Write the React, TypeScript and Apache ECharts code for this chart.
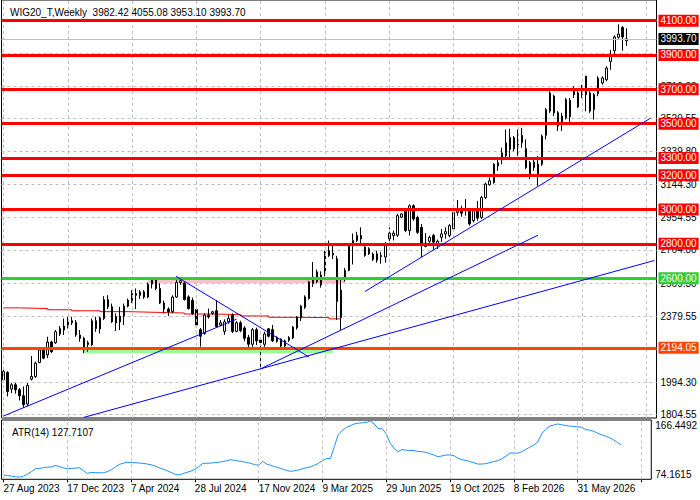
import React, { useEffect, useRef } from 'react';
import * as echarts from 'echarts';

const symbolName = 'WIG20_T';
const timeframe = 'Weekly';
const startDateUTC = Date.UTC(2023, 7, 27);
const totalSlots = 163;
const xTickStep = 16;
const xTickLabels = ['27 Aug 2023', '17 Dec 2023', '7 Apr 2024', '28 Jul 2024', '17 Nov 2024', '9 Mar 2025', '29 Jun 2025', '19 Oct 2025', '8 Feb 2026', '31 May 2026'];

// [open, high, low, close]
const candlesOHLC: number[][] = [
  [2008, 2066, 1998, 2056], [2050, 2058, 1911, 1940], [1954, 1989, 1931, 1979], [1979, 1990, 1927, 1950],
  [1950, 1960, 1888, 1915], [1915, 1969, 1844, 1863], [1867, 1989, 1853, 1975], [2012, 2147, 2004, 2027],
  [2027, 2114, 2018, 2105], [2108, 2190, 2105, 2182], [2188, 2197, 2128, 2134], [2153, 2259, 2134, 2228],
  [2228, 2236, 2163, 2172], [2224, 2298, 2217, 2288], [2275, 2321, 2263, 2307], [2298, 2365, 2269, 2321],
  [2317, 2375, 2307, 2346], [2340, 2375, 2327, 2352], [2342, 2356, 2259, 2269], [2269, 2298, 2230, 2250],
  [2250, 2259, 2163, 2182], [2213, 2236, 2172, 2224], [2211, 2365, 2205, 2352], [2352, 2375, 2288, 2307],
  [2304, 2375, 2278, 2369], [2365, 2495, 2356, 2475], [2475, 2501, 2420, 2433], [2433, 2452, 2340, 2346],
  [2375, 2395, 2292, 2340], [2345, 2433, 2298, 2379], [2379, 2452, 2327, 2437], [2437, 2481, 2430, 2472],
  [2470, 2530, 2455, 2510], [2510, 2540, 2420, 2500], [2500, 2530, 2480, 2520], [2520, 2530, 2480, 2490],
  [2490, 2575, 2485, 2565], [2565, 2600, 2540, 2590], [2590, 2600, 2530, 2540], [2540, 2570, 2450, 2455],
  [2455, 2470, 2395, 2420], [2420, 2430, 2380, 2405], [2405, 2500, 2395, 2490], [2490, 2610, 2485, 2575],
  [2575, 2600, 2560, 2585], [2572, 2578, 2470, 2475], [2491, 2500, 2417, 2423], [2470, 2487, 2385, 2394],
  [2418, 2433, 2317, 2327], [2300, 2310, 2201, 2262], [2278, 2395, 2270, 2385], [2385, 2423, 2365, 2375],
  [2395, 2410, 2385, 2404], [2410, 2472, 2310, 2317], [2327, 2356, 2320, 2340], [2290, 2360, 2270, 2346],
  [2346, 2385, 2335, 2365], [2385, 2395, 2280, 2290], [2290, 2350, 2285, 2340], [2340, 2352, 2285, 2295],
  [2310, 2320, 2232, 2250], [2255, 2270, 2198, 2215], [2215, 2310, 2200, 2300], [2300, 2312, 2210, 2235],
  [2240, 2250, 2072, 2225], [2215, 2288, 2200, 2275], [2305, 2310, 2255, 2262], [2300, 2327, 2228, 2235],
  [2232, 2262, 2225, 2255], [2245, 2250, 2195, 2205], [2205, 2242, 2190, 2235], [2238, 2262, 2228, 2255],
  [2252, 2322, 2245, 2315], [2310, 2380, 2300, 2372], [2368, 2445, 2350, 2437], [2430, 2500, 2420, 2491],
  [2481, 2585, 2475, 2578], [2568, 2694, 2549, 2607], [2578, 2650, 2570, 2636], [2617, 2640, 2545, 2560],
  [2626, 2760, 2610, 2752], [2761, 2819, 2723, 2732], [2745, 2800, 2712, 2735], [2713, 2730, 2356, 2465],
  [2370, 2600, 2298, 2530], [2590, 2660, 2580, 2645], [2645, 2800, 2640, 2790], [2790, 2860, 2680, 2819],
  [2819, 2870, 2810, 2848], [2848, 2896, 2800, 2830], [2781, 2795, 2725, 2733], [2742, 2780, 2735, 2771],
  [2740, 2750, 2700, 2710], [2742, 2760, 2690, 2705], [2725, 2752, 2684, 2732], [2723, 2810, 2690, 2790],
  [2829, 2896, 2810, 2862], [2848, 2877, 2820, 2862], [2850, 2975, 2840, 2964], [2955, 2980, 2950, 2974],
  [2989, 2995, 2868, 2877], [2877, 3030, 2848, 3022], [3022, 3030, 2935, 2945], [2954, 2964, 2857, 2867],
  [2896, 2915, 2723, 2790], [2785, 2862, 2780, 2804], [2815, 2848, 2790, 2838], [2848, 2858, 2765, 2810],
  [2800, 2825, 2770, 2815], [2838, 2886, 2810, 2858], [2858, 2896, 2830, 2871], [2848, 2915, 2838, 2906],
  [2887, 2993, 2877, 2983], [2983, 3055, 2964, 3003], [2997, 3022, 2958, 2978], [2993, 3060, 2964, 3003],
  [2993, 3008, 2906, 2916], [2935, 3003, 2925, 2993], [3003, 3050, 2935, 2950], [2954, 3080, 2945, 3070],
  [3070, 3157, 3060, 3148], [3144, 3186, 3140, 3167], [3157, 3270, 3150, 3264], [3254, 3293, 3225, 3273],
  [3290, 3360, 3263, 3330], [3312, 3466, 3300, 3389], [3350, 3470, 3292, 3420], [3418, 3428, 3340, 3354],
  [3360, 3466, 3312, 3380], [3389, 3476, 3360, 3432], [3354, 3408, 3235, 3244], [3206, 3283, 3177, 3273],
  [3277, 3302, 3225, 3244], [3196, 3312, 3138, 3264], [3264, 3437, 3254, 3427], [3432, 3592, 3408, 3582],
  [3573, 3689, 3563, 3679], [3660, 3669, 3544, 3563], [3563, 3573, 3457, 3486], [3505, 3563, 3457, 3544],
  [3534, 3650, 3524, 3640], [3540, 3650, 3505, 3636], [3689, 3718, 3650, 3669], [3679, 3689, 3592, 3598],
  [3669, 3727, 3650, 3708], [3776, 3779, 3573, 3669], [3679, 3689, 3563, 3573], [3582, 3679, 3524, 3669],
  [3675, 3776, 3660, 3766], [3737, 3776, 3727, 3766], [3756, 3834, 3747, 3824], [3862, 3930, 3814, 3901],
  [3925, 4015, 3905, 4005], [4003, 4078, 3995, 4022], [4060, 4068, 3925, 4005], [3982.42, 4055.08, 3953.1, 3993.7],
];

const atr14: number[] = [
  80.9, 80.0, 79.2, 78.0, 77.5, 79.0, 82.0, 86.0, 90.5, 91.0,
  92.2, 93.0, 93.4, 95.6, 94.0, 92.0, 90.5, 91.0, 91.5, 92.2,
  88.0, 83.2, 84.9, 84.5, 84.3, 84.3, 86.0, 88.8, 93.0, 97.3,
  99.0, 100.7, 100.2, 100.0, 99.5, 99.0, 98.0, 96.8, 95.0, 92.2,
  90.0, 87.7, 85.0, 82.0, 80.9, 83.0, 84.9, 87.0, 89.4, 94.0,
  99.0, 99.0, 99.5, 100.0, 100.7, 101.9, 103.0, 104.7, 103.5, 102.5,
  101.9, 100.2, 99.0, 97.0, 96.2, 101.9, 97.9, 96.0, 94.0, 92.2,
  90.0, 88.0, 86.6, 87.5, 88.8, 90.5, 92.2, 93.5, 96.0, 99.0,
  103.0, 106.4, 106.4, 125.0, 144.4, 150.0, 154.7, 157.5, 160.3, 161.5,
  162.0, 162.6, 164.9, 160.3, 153.0, 153.0, 145.0, 130.3, 122.0, 117.2,
  120.6, 119.5, 119.0, 118.9, 117.5, 117.0, 116.1, 114.0, 112.0, 109.3,
  110.5, 112.0, 112.1, 111.0, 107.0, 104.7, 103.5, 101.9, 100.0, 97.9,
  97.9, 98.5, 100.0, 101.9, 103.0, 105.9, 110.0, 114.9, 114.9, 114.9,
  117.0, 120.6, 124.0, 127.4, 132.0, 145.0, 152.0, 156.9, 158.5, 160.3,
  159.0, 158.0, 156.9, 156.5, 155.8, 155.3, 151.8, 150.5, 149.0, 146.0,
  143.5, 141.6, 139.0, 135.9, 131.5, 127.7107,
];

const priceTicks = [1804.55, 1994.3, 2184.05, 2379.55, 2569.3, 2764.8, 2954.55, 3144.3, 3339.8, 3529.55, 3719.3, 3909.05, 4104.55];
const priceMin = 1785.5;
const priceMax = 4220.3;
const atrTicks = [74.1615, 166.4492];

const redLevels = [4100, 3900, 3700, 3500, 3300, 3200, 3000, 2800];
const greenLevel = 2600;
const supportLevel = 2194.05;
const bidPrice = 3993.7;

// trend lines: [[startIndex, startPrice], [endIndex, endPrice]]
const trendLines = [
  [[0, 1797], [58, 2361]],
  [[43, 2610], [76, 2141]],
  [[64, 2072], [133, 2850]],
  [[20, 1789], [162, 2703]],
  [[90, 2523], [161, 3532]],
];

// zones: [[startIndex, topPrice], [endIndex, bottomPrice]]
const pinkZone = [[36, 2600], [85, 2572]];
const greenZone = [[20, 2197], [82, 2162]];

// thin red stepped average
const redStepIdx = [0, 4, 11, 17, 24, 31, 38, 45, 52, 59, 66, 73, 81, 84];
const redStepVal = [2427, 2423, 2416, 2410, 2405, 2401, 2397, 2391, 2388, 2380, 2372, 2370, 2363, 2363];

const MONTHS = ['Jan', 'Feb', 'Mar', 'Apr', 'May', 'Jun', 'Jul', 'Aug', 'Sep', 'Oct', 'Nov', 'Dec'];
const categories = Array.from({ length: totalSlots }, (_, i) => {
  const d = new Date(startDateUTC + i * 7 * 86400000);
  return `${d.getUTCDate()} ${MONTHS[d.getUTCMonth()]} ${d.getUTCFullYear()}`;
});

const FONT = 'Liberation Sans';

function levelLine(value: number, color: string, bg: string, text: string) {
  return {
    yAxis: value,
    lineStyle: { color, width: 3, type: 'solid' },
    label: {
      show: true,
      position: 'end',
      distance: 2,
      formatter: text,
      backgroundColor: bg,
      color: '#fff',
      padding: [1, 2, 0, 2],
      fontSize: 10,
      lineHeight: 11,
      fontFamily: FONT,
    },
  };
}

export default function App() {
  const ref = useRef<HTMLDivElement>(null);

  useEffect(() => {
    if (!ref.current) return;
    const chart = echarts.init(ref.current, null, { renderer: 'svg' });
    const last = candlesOHLC[candlesOHLC.length - 1];
    const gridIdx: number[] = [];
    for (let i = 0; i < totalSlots; i += xTickStep) gridIdx.push(i);
    const vGrid = gridIdx.map((i) => ({ xAxis: i }));

    const levelData: any[] = redLevels.map((v) => levelLine(v, '#ff0000', '#ff0000', v.toFixed(2)));
    levelData.push(levelLine(greenLevel, '#32cd32', '#32cd32', greenLevel.toFixed(2)));
    levelData.push(levelLine(supportLevel, '#ff4500', '#ff4500', supportLevel.toFixed(2)));
    levelData.push({
      yAxis: bidPrice,
      lineStyle: { color: '#c0c0c0', width: 1, type: 'solid' },
      label: {
        show: true, position: 'end', distance: 2, formatter: bidPrice.toFixed(2),
        backgroundColor: '#000', color: '#fff', padding: [1, 2, 0, 2], fontSize: 10, lineHeight: 11, fontFamily: FONT,
      },
    });
    const trendData = trendLines.map(([a, b]) => [
      { coord: a, lineStyle: { color: '#0000ff', width: 1, type: 'solid' }, label: { show: false } },
      { coord: b },
    ]);

    const option: any = {
      animation: false,
      backgroundColor: '#fff',
      textStyle: { fontFamily: FONT },
      title: [
        {
          text: `${symbolName},${timeframe}  ${last[0].toFixed(2)} ${last[1].toFixed(2)} ${last[2].toFixed(2)} ${last[3].toFixed(2)}`,
          left: 5, top: 2,
          textStyle: { fontSize: 10, fontWeight: 'normal', color: '#000', fontFamily: FONT },
        },
        {
          text: `ATR(14) ${atr14[atr14.length - 1].toFixed(4)}`,
          left: 7, top: 422,
          textStyle: { fontSize: 10, fontWeight: 'normal', color: '#000', fontFamily: FONT },
        },
      ],
      grid: [
        { left: 1.5, right: 43.5, top: -1, height: 419, show: true, borderColor: '#000', borderWidth: 1, backgroundColor: '#fff' },
        { left: 1.5, right: 43.5, top: 420, height: 59.3, show: true, borderColor: '#000', borderWidth: 1, backgroundColor: '#fff' },
      ],
      xAxis: [
        {
          type: 'category', gridIndex: 0, data: categories, boundaryGap: true,
          axisLine: { show: false }, axisTick: { show: false }, axisLabel: { show: false }, splitLine: { show: false },
        },
        {
          type: 'category', gridIndex: 1, data: categories, boundaryGap: true,
          axisLine: { show: false },
          axisTick: { show: true, alignWithLabel: true, interval: (i: number) => i % xTickStep === 0, length: 3, lineStyle: { color: '#000' } },
          axisLabel: {
            interval: (i: number) => i % xTickStep === 0 && i / xTickStep < xTickLabels.length,
            formatter: (_v: string, i: number) => xTickLabels[i / xTickStep] ?? '',
            align: 'left', margin: 4, fontSize: 10, color: '#000', fontFamily: FONT,
          },
          splitLine: { show: false },
        },
      ],
      yAxis: [
        {
          type: 'value', gridIndex: 0, position: 'right', min: priceMin, max: priceMax,
          axisLine: { show: false },
          axisTick: { show: false, customValues: priceTicks },
          axisLabel: { customValues: priceTicks, formatter: (v: number) => v.toFixed(2), margin: 4, fontSize: 10, color: '#000', fontFamily: FONT },
          splitLine: { show: true, lineStyle: { color: '#c0c0c0', width: 1, type: [3, 3] } },
        },
        {
          type: 'value', gridIndex: 1, position: 'right', min: atrTicks[0], max: atrTicks[1],
          axisLine: { show: false }, axisTick: { show: false },
          axisLabel: {
            customValues: atrTicks, formatter: (v: number) => v.toFixed(4), margin: 4, fontSize: 10, color: '#000', fontFamily: FONT,
            showMinLabel: true, showMaxLabel: true, verticalAlignMinLabel: 'bottom', verticalAlignMaxLabel: 'top',
          },
          splitLine: { show: false },
        },
      ],
      series: [
        {
          name: 'bg', type: 'line', xAxisIndex: 0, yAxisIndex: 0, data: [], z: 1, silent: true,
          markArea: {
            silent: true,
            data: [
              [{ coord: pinkZone[0], itemStyle: { color: '#ffc0cb' } }, { coord: pinkZone[1] }],
              [{ coord: greenZone[0], itemStyle: { color: '#98fb98' } }, { coord: greenZone[1] }],
            ],
          },
          markLine: {
            silent: true, symbol: ['none', 'none'], label: { show: false },
            lineStyle: { color: '#c0c0c0', width: 1, type: [3, 3] },
            data: vGrid,
          },
        },
        {
          name: 'bgAtr', type: 'line', xAxisIndex: 1, yAxisIndex: 1, data: [], z: 1, silent: true,
          markLine: {
            silent: true, symbol: ['none', 'none'], label: { show: false },
            lineStyle: { color: '#c0c0c0', width: 1, type: [3, 3] },
            data: vGrid,
          },
        },
        {
          name: 'avg', type: 'line', xAxisIndex: 0, yAxisIndex: 0, z: 2, silent: true,
          data: redStepIdx.map((i, k) => [i, redStepVal[k]]),
          step: 'end', symbol: 'none', lineStyle: { color: '#ff0000', width: 1 },
        },
        {
          name: 'price', type: 'candlestick', xAxisIndex: 0, yAxisIndex: 0, z: 3, silent: true,
          data: candlesOHLC.map(([o, h, l, c]) => [o, c, l, h]),
          barWidth: 2,
          itemStyle: { color: '#fff', color0: '#000', borderColor: '#000', borderColor0: '#000', borderWidth: 1 },
        },
        {
          name: 'objects', type: 'line', xAxisIndex: 0, yAxisIndex: 0, data: [], z: 4, silent: true,
          markLine: {
            silent: true, symbol: ['none', 'none'],
            lineStyle: { type: 'solid' },
            data: [...levelData, ...trendData],
          },
        },
        {
          name: 'ATR', type: 'line', xAxisIndex: 1, yAxisIndex: 1, z: 3, silent: true,
          data: atr14, symbol: 'none', lineStyle: { color: '#1e90ff', width: 1 },
        },
      ],
    };
    chart.setOption(option);
    return () => chart.dispose();
  }, []);

  return <div ref={ref} style={{ position: 'fixed', left: 0, top: 0, width: 700, height: 500 }} />;
}
